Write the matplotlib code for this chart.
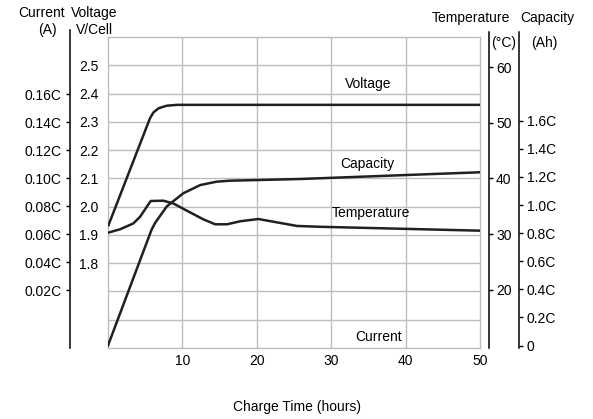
import matplotlib
matplotlib.use("Agg")
import matplotlib.pyplot as plt

plt.rcParams['font.family'] = ['Liberation Sans', 'DejaVu Sans']
plt.rcParams['font.size'] = 10

# ---- data ----
hours_v = [0, 5.65, 6.1, 6.8, 7.9, 9.3, 50]
voltage = [1.93, 2.313, 2.333, 2.348, 2.357, 2.36, 2.36]

hours_t = [0, 1.62, 3.4, 4.31, 5.21, 5.75, 7.44, 8.79, 10.6, 12.8, 14.4, 16.0,
           17.8, 20.2, 22.7, 25.4, 28.5, 50]
temperature = [30.23, 30.85, 31.9, 33.1, 34.9, 35.95, 36.0, 35.5, 34.2, 32.65, 31.75, 31.75,
               32.3, 32.7, 32.1, 31.45, 31.3, 30.6]

hours_c = [0, 5.84, 6.3, 7.9, 10.1, 12.4, 14.6, 16.4, 25.8, 50]
capacity = [0.0, 0.822, 0.87, 0.99, 1.083, 1.142, 1.166, 1.173, 1.185, 1.233]

x_ticks = [10, 20, 30, 40, 50]
volt_ticks = [1.8, 1.9, 2.0, 2.1, 2.2, 2.3, 2.4, 2.5]
volt_grid = [1.6, 1.7, 1.8, 1.9, 2.0, 2.1, 2.2, 2.3, 2.4, 2.5]
current_ticks = [0.02, 0.04, 0.06, 0.08, 0.10, 0.12, 0.14, 0.16]
current_labels = ['0.02C', '0.04C', '0.06C', '0.08C', '0.10C', '0.12C', '0.14C', '0.16C']
temp_ticks = [20, 30, 40, 50, 60]
cap_ticks = [0, 0.2, 0.4, 0.6, 0.8, 1.0, 1.2, 1.4, 1.6]
cap_labels = ['0', '0.2C', '0.4C', '0.6C', '0.8C', '1.0C', '1.2C', '1.4C', '1.6C']

W, H = 593, 419
LINE = '#231f20'
GRID = '#bdbdbd'

fig = plt.figure(figsize=(W / 100, H / 100), dpi=100)

def rect(x0, y_top, x1, y_bot):
    return [x0 / W, 1 - y_bot / H, (x1 - x0) / W, (y_bot - y_top) / H]

# main axes (voltage)
ax = fig.add_axes(rect(108, 37, 480, 348))
ax.set_xlim(0, 50)
ax.set_ylim(1.5, 2.6)
for s in ax.spines.values():
    s.set_color(GRID)
    s.set_linewidth(1.0)
for v in volt_grid:
    ax.axhline(v, color=GRID, lw=1.0, zorder=0)
for xv in x_ticks[:-1]:
    ax.axvline(xv, color=GRID, lw=1.0, zorder=0)
ax.set_xticks(x_ticks)
ax.set_xticklabels([str(v) for v in x_ticks])
ax.tick_params(axis='x', length=0, pad=4, labelsize=10)
ax.set_yticks(volt_ticks)
ax.set_yticklabels(['%.1f' % v for v in volt_ticks])
ax.tick_params(axis='y', length=0, pad=7, labelsize=10)
ax.plot(hours_v, voltage, color=LINE, lw=1.8, solid_capstyle='butt', zorder=3)

ax.text(35.0, 2.434, 'Voltage', ha='center', va='center', fontsize=10)
ax.text(34.9, 2.151, 'Capacity', ha='center', va='center', fontsize=10)
ax.text(35.4, 1.978, 'Temperature', ha='center', va='center', fontsize=10)
ax.text(36.3, 1.54, 'Current', ha='center', va='center', fontsize=10)

# temperature axis
axT = fig.add_axes(rect(108, 32, 480, 348))
axT.patch.set_visible(False)
axT.set_xlim(0, 50)
axT.set_ylim(30 - 114 / 5.55, 30 + 202 / 5.55)
for k, s in axT.spines.items():
    s.set_visible(k == 'right')
axT.spines['right'].set_position(('outward', 9 * 72 / 100))
axT.spines['right'].set_linewidth(1.1)
axT.set_xticks([])
axT.yaxis.tick_right()
axT.set_yticks(temp_ticks)
axT.set_yticklabels([str(v) for v in temp_ticks])
axT.tick_params(axis='y', length=3, width=1.0, pad=2, labelsize=10)
axT.plot(hours_t, temperature, color=LINE, lw=1.8, zorder=3)

# capacity axis
axC = fig.add_axes(rect(108, 32, 480, 348))
axC.patch.set_visible(False)
axC.set_xlim(0, 50)
axC.set_ylim(-2.5 / 140.5, 313.5 / 140.5)
for k, s in axC.spines.items():
    s.set_visible(k == 'right')
axC.spines['right'].set_position(('outward', 39 * 72 / 100))
axC.spines['right'].set_linewidth(1.1)
axC.set_xticks([])
axC.yaxis.tick_right()
axC.set_yticks(cap_ticks)
axC.set_yticklabels(cap_labels)
axC.tick_params(axis='y', length=3, width=1.0, pad=2.5, labelsize=10)
axC.plot(hours_c, capacity, color=LINE, lw=1.8, zorder=3)

# current axis
axI = fig.add_axes(rect(108, 30, 480, 348))
axI.patch.set_visible(False)
axI.set_xlim(0, 50)
axI.set_ylim(0.02 - 58 / 1400, 0.02 + 260 / 1400)
for k, s in axI.spines.items():
    s.set_visible(k == 'left')
axI.spines['left'].set_position(('outward', 38 * 72 / 100))
axI.spines['left'].set_linewidth(1.1)
axI.set_xticks([])
axI.set_yticks(current_ticks)
axI.set_yticklabels(current_labels)
axI.tick_params(axis='y', length=3, width=1.0, pad=3, labelsize=10)

# headers
def ftext(px, py, s, **kw):
    fig.text(px / W, 1 - py / H, s, ha='center', va='center', fontsize=10, **kw)

ftext(42, 13, 'Current')
ftext(47.5, 30, '(A)')
ftext(94, 13, 'Voltage')
ftext(95, 30, 'V/Cell')
ftext(471, 18, 'Temperature')
ftext(547, 18, 'Capacity')
ftext(504, 43, '(°C)')
ftext(544, 43, '(Ah)')
ftext(297, 407, 'Charge Time (hours)')

fig.savefig('out.png', dpi=100)
